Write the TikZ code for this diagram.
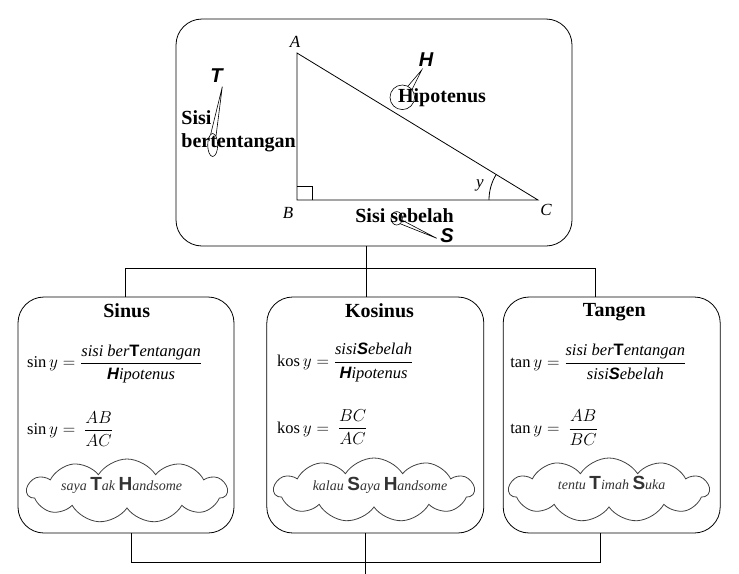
\documentclass[tikz,border=0pt]{standalone}
\usepackage{amsmath}
\usepackage{fontspec}
\setmainfont{Liberation Serif}
\setsansfont{Liberation Sans}
\usetikzlibrary{shapes.symbols,shapes.geometric,calc}
\newcommand{\kapital}[1]{{\sffamily\bfseries #1}}% bold hint letter
\newcommand{\besar}[1]{\kapital{\fontsize{19}{21}\selectfont\upshape #1}}% hint letter in a cloud
\newcommand{\awan}[4]{
  \node[awanbox] (#1) at (#2) {};
  \node[awantext] (#1t) at (#3) {#4};% text sits a bit above centre
}

\begin{document}
\begin{tikzpicture}[x=1pt,y=-1pt,line width=0.8pt,
    kotak/.style={draw,rounded corners=26pt,inner sep=0pt},
    judul/.style={font=\fontsize{20}{23}\bfseries\selectfont,inner sep=1pt},
    rumus/.style={anchor=west,font=\fontsize{16.5}{19}\selectfont,inner sep=0pt},
    sudut/.style={font=\fontsize{17}{19}\itshape\selectfont,inner sep=1pt},
    huruf/.style={font=\fontsize{20}{22}\sffamily\bfseries\itshape\selectfont,inner sep=0pt},
    lingkar/.style={draw,ellipse,inner sep=0pt,line width=0.6pt},
    awanbox/.style={cloud,cloud ignores aspect,draw=black!75,fill=white,cloud puffs=11,
      cloud puff arc=115,minimum width=200pt,minimum height=64pt,inner sep=0pt},
    awantext/.style={font=\fontsize{14}{16}\itshape\selectfont,text=black!80,inner sep=0pt}]
  \useasboundingbox (0,0) rectangle (739,573);

  % boxes
  \node[kotak,minimum width=396pt,minimum height=227pt] (atas) at (374,132.5) {};
  \node[kotak,minimum width=216pt,minimum height=236pt] (sinbox) at (126,415) {};
  \node[kotak,minimum width=217pt,minimum height=236pt] (kosbox) at (375.3,415) {};
  \node[kotak,minimum width=217pt,minimum height=236pt] (tanbox) at (611.7,415) {};

  % triangle ABC
  \coordinate (A) at (297,53);
  \coordinate (B) at (297,200);
  \coordinate (C) at (538,200);
  \draw (A) -- (B) -- (C) -- cycle;
  \draw (B) ++(15,0) -- ++(0,-14) -- ++(-15,0);
  \draw ($(C)+(-49,0)$) arc[start angle=180,end angle=211.4,radius=49];
  \node[sudut] (lA) at (295,42) {A};
  \node[sudut] (lB) at (288,212.5) {B};
  \node[sudut] (lC) at (546,210) {C};
  \node[sudut] (ly) at (480,185) {y};

  % side names
  \node[judul,anchor=west] (sisi) at (180,118) {Sisi};
  \node[judul,anchor=west] (bert) at (180,142.5) {bertentangan};
  \node[judul] (hipo) at (442,97.5) {Hipotenus};
  \node[judul] (sebelah) at (404.5,216) {Sisi sebelah};

  % hint letters with their marks
  \node[lingkar,minimum width=10pt,minimum height=23pt] (elT) at (212.7,145) {};
  \node[huruf] (hT) at (216.5,76) {T};
  \coordinate (tipT) at (222.3,86.7);
  \draw[line width=0.6pt] (elT.100) -- (tipT) -- (elT.70);

  \node[lingkar,circle,minimum size=24.6pt] (elH) at (402.3,97.3) {};
  \node[huruf] (hH) at (426,60) {H};
  \coordinate (tipH) at (421.7,70);
  \draw[line width=0.6pt] (elH.63) -- (tipH) -- (elH.39);

  \node[lingkar,minimum width=11.4pt,minimum height=13.4pt] (elS) at (396.7,218.3) {};
  \node[huruf] (hS) at (447,236) {S};
  \coordinate (tipS) at (436.7,238.3);
  \draw[line width=0.6pt] (elS.-56) -- (tipS) -- (elS.-20);

  % connectors
  \coordinate (jt) at (366,268);
  \coordinate (jl) at (125,268);
  \coordinate (jr) at (595,268);
  \draw (jt |- atas.south) -- (jt);
  \draw (jl |- sinbox.north) -- (jl) -- (jr) -- (jr |- tanbox.north);
  \draw (jt) -- (jt |- kosbox.north);
  \coordinate (bl) at (131,562);
  \coordinate (br) at (600,562);
  \coordinate (bawah) at (365,575);
  \draw (bl |- sinbox.south) -- (bl) -- (br) -- (br |- tanbox.south);
  \draw (bawah |- kosbox.south) -- (bawah);

  % sinus
  \node[judul,anchor=base] (tsin) at (126.7,317) {Sinus};
  \node[rumus] (sin1) at (26.7,364) {$\sin y = \dfrac{\mathit{sisi\ ber}\text{\kapital{T}}\mathit{entangan}}{\text{\kapital{\itshape H}}\mathit{ipotenus}}$};
  \node[rumus] (sin2) at (26.7,429) {$\sin y =\ \dfrac{AB}{AC}$};
  \awan{awsin}{127,491}{121.7,485}{saya \besar{T}ak \besar{H}andsome}

  % kosinus
  \node[judul,anchor=base] (tkos) at (379.5,317) {Kosinus};
  \node[rumus] (kos1) at (276.7,362.7) {$\mathrm{kos}\, y = \dfrac{\mathit{sisi}\text{\kapital{\itshape S}}\mathit{ebelah}}{\text{\kapital{\itshape H}}\mathit{ipotenus}}$};
  \node[rumus] (kos2) at (276.7,427.3) {$\mathrm{kos}\, y =\ \dfrac{BC}{AC}$};
  \awan{awkos}{374,490}{380,485}{kalau \besar{S}aya \besar{H}andsome}

  % tangen
  \node[judul,anchor=base] (ttan) at (614.3,316) {Tangen};
  \node[rumus] (tan1) at (510,361.7) {$\tan y = \dfrac{\mathit{sisi\ ber}\text{\kapital{T}}\mathit{entangan}}{\mathit{sisi}\text{\kapital{\itshape S}}\mathit{ebelah}}$};
  \node[rumus] (tan2) at (510,427.7) {$\tan y =\ \dfrac{AB}{BC}$};
  \awan{awtan}{609,490}{611.7,483}{tentu \besar{T}imah \besar{S}uka}
\end{tikzpicture}
\end{document}
